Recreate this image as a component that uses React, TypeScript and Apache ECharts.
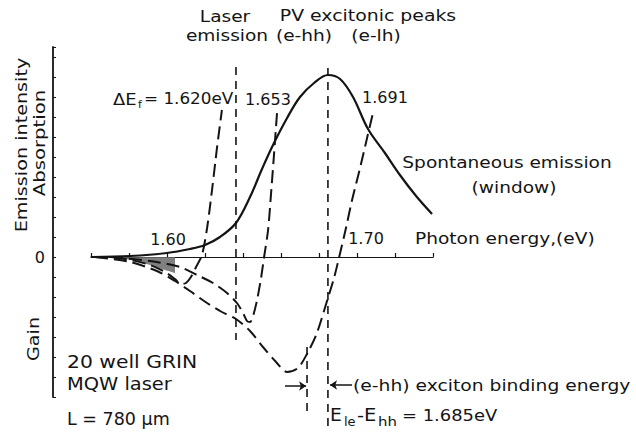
import React, { useEffect, useRef } from 'react';
import * as echarts from 'echarts';

// Photon energy (eV) vs relative intensity (arbitrary units, >0 absorption/emission, <0 gain)
const spontaneousEmission: number[][] = [
  [1.5605, 0], [1.5805, 0.01], [1.6, 0.04], [1.6121, 0.08], [1.62, 0.12], [1.6279, 0.2],
  [1.6363, 0.34], [1.6437, 0.6], [1.65, 0.88], [1.6558, 1.12], [1.6632, 1.39], [1.67, 1.6],
  [1.6774, 1.74], [1.6847, 1.82], [1.6911, 1.78], [1.6979, 1.6], [1.7058, 1.28], [1.7147, 1.04],
  [1.7226, 0.82], [1.7311, 0.61], [1.7395, 0.43],
];
const gain1620: number[][] = [
  [1.5621, 0], [1.5779, -0.02], [1.5911, -0.08], [1.5989, -0.15], [1.6042, -0.22], [1.6074, -0.27],
  [1.61, -0.26], [1.6126, -0.2], [1.6153, -0.1], [1.6184, 0.02], [1.6211, 0.29], [1.6237, 0.67],
  [1.6263, 1.09], [1.6289, 1.47],
];
const gain1653: number[][] = [
  [1.57, 0], [1.5911, -0.04], [1.6068, -0.1], [1.6158, -0.18], [1.6242, -0.26], [1.6316, -0.36],
  [1.6368, -0.46], [1.64, -0.56], [1.6421, -0.64], [1.6437, -0.65], [1.6453, -0.59], [1.6474, -0.43],
  [1.6495, -0.21], [1.6511, 0], [1.6532, 0.27], [1.6547, 0.62], [1.6563, 1.02], [1.6579, 1.44],
];
const gain1691: number[][] = [
  [1.5621, 0], [1.5805, -0.05], [1.5947, -0.14], [1.6042, -0.24], [1.6121, -0.34], [1.6211, -0.46],
  [1.6289, -0.55], [1.6363, -0.62], [1.6437, -0.74], [1.6505, -0.9], [1.6574, -1.05], [1.6632, -1.15],
  [1.6689, -1.11], [1.6742, -0.95], [1.6789, -0.76], [1.6847, -0.41], [1.6879, -0.21], [1.6905, -0.01],
  [1.6942, 0.29], [1.6974, 0.57], [1.7016, 0.89], [1.7053, 1.19], [1.7084, 1.44],
];
const shadedRegion: number[][] = [
  [1.5621, 0], [1.5779, -0.02], [1.5911, -0.08], [1.5989, -0.13], [1.6042, -0.16],
];
const laserEmissionE = 1.6363;
const ehhTransitionE = 1.6847; // E1e - Ehh = 1.685 eV
const pvEhhPeakE = 1.6737;
const pvElhPeakE = 1.7105;

const INK = '#141414';
const FONT = 'DejaVu Sans';

function txt(text: string, x: number, y: number, size: number, align = 'left', rotation = 0, sx = 1) {
  return {
    type: 'text', x, y, rotation, scaleX: sx, silent: true,
    style: { text, fontSize: size, fontFamily: FONT, fill: INK, align, verticalAlign: 'middle' },
  };
}

export default function App() {
  const ref = useRef<HTMLDivElement>(null);
  useEffect(() => {
    const chart = echarts.init(ref.current!, null, { renderer: 'svg' });
    const dashed = { color: INK, width: 2, type: [13, 6] as any };
    const vDashed = { color: INK, width: 1.6, type: [8, 6] as any };
    const base = { type: 'line', symbol: 'none', clip: false, silent: true };
    const W = 1.16;
    const option: any = {
      animation: false,
      backgroundColor: '#fff',
      grid: { left: 91, right: 203, top: 47, bottom: 39 },
      xAxis: {
        type: 'value', min: 1.56, max: 1.74, interval: 0.02,
        axisLine: { show: true, onZero: true, lineStyle: { color: INK, width: 1.2 } },
        axisTick: { show: true, inside: true, length: 4, lineStyle: { color: INK, width: 1.2 } },
        axisLabel: { show: false },
        splitLine: { show: false },
      },
      yAxis: {
        type: 'value', min: -1.4, max: 2.1, interval: 0.2, offset: 38,
        axisLine: { show: true, lineStyle: { color: INK, width: 1.8 } },
        axisTick: { show: true, inside: true, length: 3, lineStyle: { color: INK, width: 1 } },
        axisLabel: {
          show: true, margin: 8, fontSize: 16, fontFamily: FONT, color: INK,
          formatter: (v: number) => (Math.abs(v) < 1e-9 ? '0' : ''),
        },
        splitLine: { show: false },
      },
      series: [
        { ...base, name: 'shade', data: shadedRegion, smooth: 0.3, lineStyle: { width: 0 },
          areaStyle: { color: '#6a6a6a', opacity: 0.85 } },
        { ...base, name: 'Spontaneous emission', data: spontaneousEmission, smooth: 0.35,
          lineStyle: { color: INK, width: 2.2 } },
        { ...base, name: 'ΔEf=1.620', data: gain1620, smooth: 0.3, lineStyle: dashed },
        { ...base, name: 'ΔEf=1.653', data: gain1653, smooth: 0.3, lineStyle: dashed },
        { ...base, name: 'ΔEf=1.691', data: gain1691, smooth: 0.3, lineStyle: dashed },
        { ...base, name: 'zeroLeft', data: [[1.5405, 0], [1.56, 0]], lineStyle: { color: '#777', width: 1, type: [1, 3] } },
        { ...base, name: 'zeroRight', data: [[1.74, 0], [1.755, 0]], lineStyle: { color: '#555', width: 1, type: [1, 3] } },
        { ...base, name: 'laser', data: [[laserEmissionE, 1.9], [laserEmissionE, -0.83]], lineStyle: vDashed },
        { ...base, name: 'ehh', data: [[ehhTransitionE, 1.89], [ehhTransitionE, -1.73]], lineStyle: vDashed },
        { ...base, name: 'binding', data: [[pvEhhPeakE, -0.9], [pvEhhPeakE, -1.56]], lineStyle: vDashed },
        {
          ...base, name: 'arrows', data: [],
          markLine: {
            silent: true, symbol: ['none', 'arrow'], symbolSize: 7, animation: false,
            label: { show: false },
            lineStyle: { color: INK, width: 1.5, type: 'solid' },
            data: [
              [{ coord: [laserEmissionE, 2.11] }, { coord: [laserEmissionE, 1.97] }],
              [{ coord: [pvEhhPeakE, 2.11] }, { coord: [pvEhhPeakE, 1.97] }],
              [{ coord: [pvElhPeakE, 2.11] }, { coord: [pvElhPeakE, 1.97] }],
              [{ coord: [1.6621, -1.29] }, { coord: [1.6732, -1.29] }],
              [{ coord: [1.6974, -1.28] }, { coord: [1.6858, -1.28] }],
            ],
          },
        },
      ],
      graphic: [
        txt('Emission intensity', 22, 145, 16, 'center', Math.PI / 2, 1.2),
        txt('Absorption', 39, 143, 16, 'center', Math.PI / 2, 1.23),
        txt('Gain', 34, 339, 16, 'center', Math.PI / 2, 1.2),
        txt('Laser', 225, 16, 16, 'center', 0, W),
        txt('emission', 227, 35, 16, 'center', 0, W),
        txt('PV excitonic peaks', 368, 16, 16, 'center', 0, 1.18),
        txt('(e-hh)', 304, 35, 16, 'center', 0, W),
        txt('(e-lh)', 376, 35, 16, 'center', 0, W),
        txt('ΔE', 113, 99, 16, 'left', 0, 1.12),
        txt('f', 138, 104, 11),
        txt('= 1.620eV', 144, 99, 16, 'left', 0, 1.05),
        txt('1.653', 268, 99, 16, 'center'),
        txt('1.691', 385, 97, 16, 'center'),
        txt('Spontaneous emission', 507, 162, 16, 'center', 0, W),
        txt('(window)', 514, 187, 16, 'center', 0, W),
        txt('1.60', 168, 239, 16, 'center'),
        txt('1.70', 366, 238, 16, 'center'),
        txt('Photon energy,(eV)', 415, 238, 16, 'left', 0, W),
        txt('20 well GRIN', 67, 362, 18, 'left', 0, 1.13),
        txt('MQW laser', 67, 384, 18, 'left', 0, 1.08),
        txt('L = 780 µm', 67, 419, 17, 'left', 0, 1.03),
        txt('(e-hh) exciton binding energy', 353, 385, 16, 'left', 0, 1.17),
        txt('E', 330, 415, 17, 'left', 0, 1.1),
        txt('le', 344, 421, 13),
        txt('-E', 357, 415, 17, 'left', 0, 1.15),
        txt('hh', 378, 421, 13, 'left', 0, 1.15),
        txt('= 1.685eV', 402, 415, 16, 'left', 0, 1.12),
      ],
    };
    chart.setOption(option);
    return () => chart.dispose();
  }, []);
  return (
    <div
      ref={ref}
      style={{ position: 'fixed', left: 0, top: 0, width: 636, height: 436, background: '#fff' }}
    />
  );
}
